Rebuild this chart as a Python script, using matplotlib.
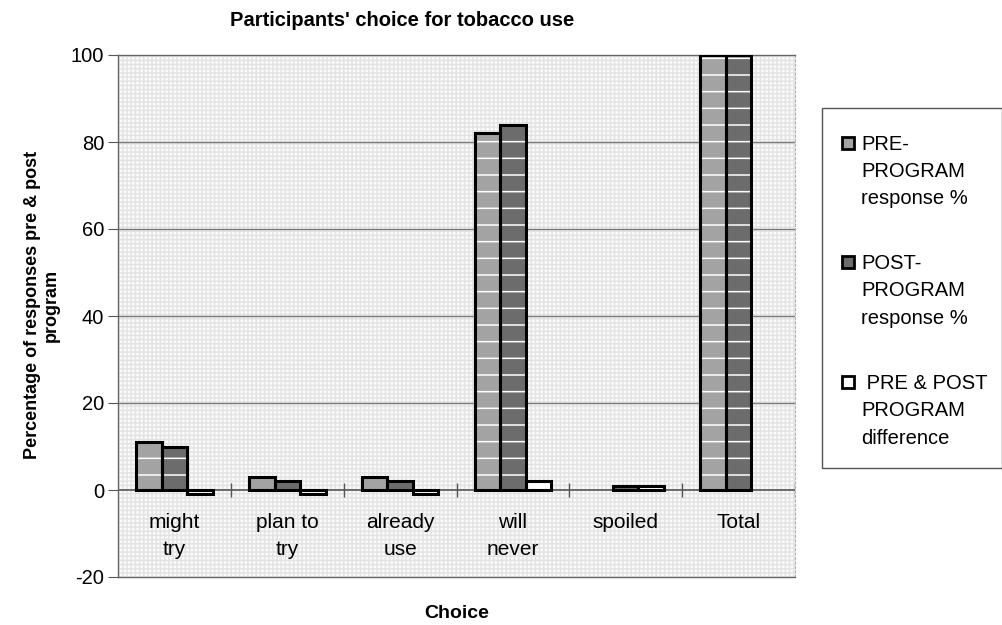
import matplotlib
matplotlib.use("Agg")
import matplotlib.pyplot as plt
from matplotlib.patches import Rectangle
import numpy as np

plt.rcParams['font.family'] = ['Liberation Sans', 'DejaVu Sans']
plt.rcParams['hatch.linewidth'] = 1.1

categories = ["might\ntry", "plan to\ntry", "already\nuse", "will\nnever", "spoiled", "Total"]
pre_program = [11, 3, 3, 82, 0, 100]
post_program = [10, 2, 2, 84, 1, 100]
difference = [-1, -1, -1, 2, 1, 0]

series_labels = ["PRE-\nPROGRAM\nresponse %", "POST-\nPROGRAM\nresponse %", " PRE & POST\nPROGRAM\ndifference"]
series_colors = ["#a3a3a3", "#6c6c6c", "#ffffff"]
y_ticks = [-20, 0, 20, 40, 60, 80, 100]

fig = plt.figure(figsize=(10.02, 6.25), dpi=100)
ax = fig.add_axes([0.1178, 0.0768, 0.6756, 0.8352])

# faint dotted background texture of the plot area
ax.patch.set_facecolor("#fbfbfb")
ax.patch.set_hatch("++++")
ax.patch.set_edgecolor("#e4e4e4")

x = np.arange(len(categories))
bw = 0.226
for k, (vals, col) in enumerate(zip([pre_program, post_program, difference], series_colors)):
    pos = x + (k - 1) * bw
    widths = [2.2 if v != 0 else 0 for v in vals]
    # fill with faint white banding, then a solid black outline on top
    ax.bar(pos, vals, width=bw, color=col, edgecolor="white", hatch="-" if k < 2 else None,
           linewidth=0, zorder=3)
    ax.bar(pos, vals, width=bw, facecolor="none", edgecolor="black", linewidth=widths, zorder=4)

ax.set_xlim(-0.5, len(categories) - 0.5)
ax.set_ylim(-20, 100)
ax.set_yticks(y_ticks)
ax.set_yticklabels([str(v) for v in y_ticks], fontsize=14.5)
ax.tick_params(axis="y", length=7, color="#555555", pad=3)
ax.set_xticks([])

for yv in y_ticks[2:-1]:
    ax.axhline(yv, color="#7a7a7a", linewidth=1.0, zorder=2)
ax.axhline(0, color="#555555", linewidth=1.2, zorder=2)

# category tick marks across the zero line
ax.vlines(np.arange(len(categories)) + 0.5, -1.6, 1.6, color="#555555", linewidth=1.0, zorder=2)

for i, lab in enumerate(categories):
    ax.text(i, -5.3, lab, ha="center", va="top", fontsize=15, linespacing=1.5, zorder=5)

for side in ["left", "bottom", "top"]:
    ax.spines[side].set_color("#666666")
    ax.spines[side].set_linewidth(1.0)
ax.spines["right"].set_color("#b0b0b0")
ax.spines["right"].set_linestyle((0, (2, 2)))

fig.text(402 / 1002, 1 - 21 / 625, "Participants' choice for tobacco use", ha="center", va="center",
         fontsize=14.5, fontweight="bold")
fig.text(457 / 1002, 1 - 613 / 625, "Choice", ha="center", va="center", fontsize=14, fontweight="bold")
fig.text(42 / 1002, 1 - 305 / 625, "Percentage of responses pre & post\nprogram", ha="center", va="center",
         rotation=90, fontsize=13, fontweight="bold", linespacing=1.2)

# legend box
fig.patches.append(Rectangle((822 / 1002, 1 - 468 / 625), 180 / 1002, 360 / 625, transform=fig.transFigure,
                             facecolor="white", edgecolor="#555555", linewidth=1.0))
entry_tops = [135, 254, 374]
for top, lab, col in zip(entry_tops, series_labels, series_colors):
    fig.patches.append(Rectangle((842 / 1002, 1 - (top + 14) / 625), 12 / 1002, 12 / 625,
                                 transform=fig.transFigure, facecolor=col, edgecolor="black", linewidth=2.0))
    fig.text(861 / 1002, 1 - top / 625, lab, ha="left", va="top", fontsize=14.5, linespacing=1.55)

fig.savefig("out.png", dpi=100)
